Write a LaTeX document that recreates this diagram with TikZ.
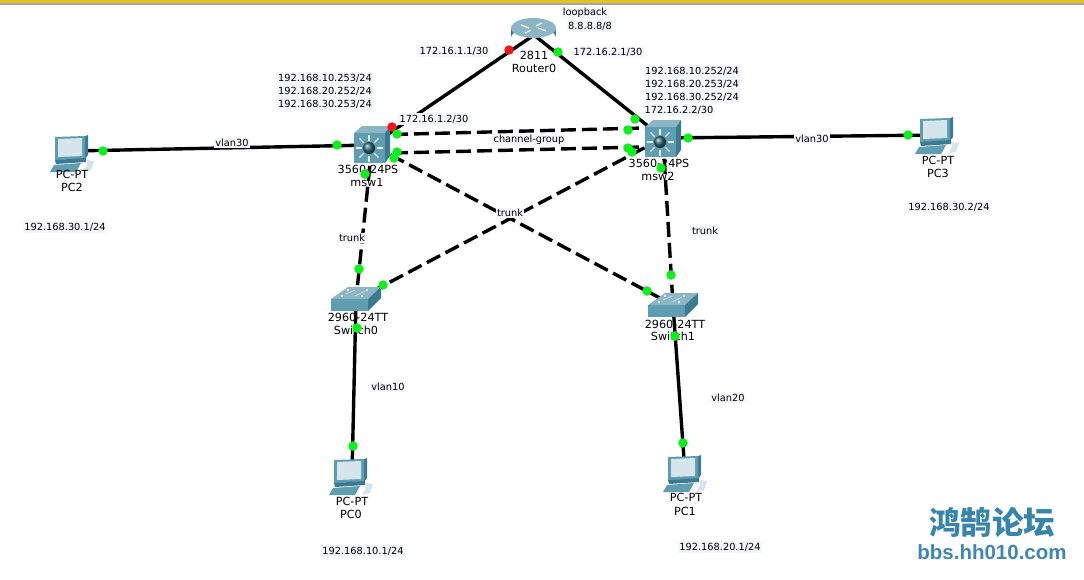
\documentclass[tikz,border=0pt]{standalone}
\usepackage{fontspec}
\setmainfont{DejaVu Sans}
\newfontfamily\cjkwm[Scale=1]{Noto Sans CJK SC}
\newfontfamily\latinwm{Liberation Sans}
\definecolor{labelbg}{HTML}{F5F7FE}
\definecolor{portgreen}{HTML}{0CF01C}
\definecolor{portred}{HTML}{F51414}
\definecolor{tealA}{HTML}{5F9DB2}
\definecolor{tealB}{HTML}{8CB6C4}
\definecolor{tealC}{HTML}{3B7A90}
\definecolor{tealD}{HTML}{D6E4EC}
\definecolor{wmblue}{HTML}{3E86B4}
\tikzset{
  solidlink/.style={line width=3.4pt,draw=black},
  dashlink/.style={line width=3.4pt,draw=black,dash pattern=on 15pt off 6pt},
  portg/.style={circle,fill=portgreen,inner sep=0pt,minimum size=9.5pt},
  portr/.style={circle,fill=portred,inner sep=0pt,minimum size=9.5pt},
  lab/.style={font=\fontsize{9.8}{13}\selectfont,fill=labelbg,inner sep=1.5pt,align=left},
  devlab/.style={font=\fontsize{11.2}{13}\selectfont,inner sep=0pt,text=black},
  pc/.pic={
    \fill[tealC] (33,2) -- (38,0) -- (38,20) -- (35,24) -- cycle;
    \fill[tealA] (5,2) -- (35,1) -- (35,24) -- (5,25) -- cycle;
    \fill[tealD] (8,4) -- (32,3) -- (32,21) -- (8,22) -- cycle;
    \fill[tealC] (5,25) -- (36,23) -- (36,27) -- (6,29) -- cycle;
    \fill[tealA] (4,30) -- (31,28) -- (26,37) -- (0,37) -- cycle;
    \fill[tealD] (36,25) -- (44,26) -- (41,35) -- (33,37) -- (37,30) -- cycle;
  },
  mls/.pic={
    \fill[tealB] (0,7) -- (8,0) -- (36,0) -- (31,7) -- cycle;
    \fill[tealC] (31,7) -- (36,0) -- (36,30) -- (31,37) -- cycle;
    \fill[tealA] (0,7) rectangle (31,37);
    \foreach \a in {0,45,...,315}{
      \draw[white!85!tealA,line width=1.1pt] (15,22)++(\a:7.5) -- ++(\a:6);
    }
    \shade[ball color=tealC!85!black] (15,22) circle (6);
  },
  l2sw/.pic={
    \fill[tealB] (0,12) -- (17,0) -- (50,0) -- (37,12) -- cycle;
    \fill[tealC] (37,12) -- (50,0) -- (50,11) -- (37,24) -- cycle;
    \fill[tealA] (0,12) rectangle (37,24);
    \fill[white] (17,3) circle (1.2) (36,3) circle (1.2) (11,9) circle (1.2) (31,9) circle (1.2);
    \draw[tealD,line width=.6pt] (15,7) -- (24,3) (24,9) -- (34,4);
  },
  routericon/.pic={
    \shade[left color=tealC,right color=tealC,middle color=tealD] (0,10) -- (0,19) arc[start angle=180,end angle=360,x radius=22.5,y radius=8] -- (45,10) -- cycle;
    \fill[tealB] (22.5,10) ellipse[x radius=22.5,y radius=10];
    \draw[white,line width=1.1pt] (10,7) -- (18,10) (35,13) -- (27,10) (14,15) -- (20,12) (31,5) -- (25,8);
  }
}
\begin{document}
\begin{tikzpicture}[x=1pt,y=-1pt]
\useasboundingbox (0,0) rectangle (1084,579);
\fill[white] (0,0) rectangle (1084,579);
% window edge
\fill[yellow!70!orange!90!black] (0,0) rectangle (1084,3);
\fill[gray!70] (0,3) rectangle (1084,4.5);

% device centres
\coordinate (pc2c) at (72,151);
\coordinate (msw1c) at (372,145);
\coordinate (msw2c) at (663,138);
\coordinate (pc3c) at (938,135);
\coordinate (r0c) at (534,35);
\coordinate (sw0c) at (356,300);
\coordinate (sw1c) at (673,305);
\coordinate (pc0c) at (352,475);
\coordinate (pc1c) at (685,473);
\coordinate (m1up) at (372,135);
\coordinate (m1lo) at (372,153.5);
\coordinate (m2up) at (663,127.5);
\coordinate (m2lo) at (663,146.5);

% connectors
\draw[solidlink] (pc2c) -- (msw1c);
\draw[solidlink] (msw2c) -- (pc3c);
\draw[solidlink] (r0c) -- (msw1c);
\draw[solidlink] (r0c) -- (msw2c);
\draw[dashlink] (m1up) -- (m2up);
\draw[dashlink] (m1lo) -- (m2lo);
\draw[dashlink] (msw1c) -- (sw0c);
\draw[dashlink] (msw2c) -- (sw1c);
\draw[dashlink] (msw1c) -- (sw1c);
\draw[dashlink] (msw2c) -- (sw0c);
\draw[solidlink] (sw0c) -- (pc0c);
\draw[solidlink] (sw1c) -- (pc1c);

% device icons
\pic at (50,135) {pc};
\pic at (915,117) {pc};
\pic at (329,458) {pc};
\pic at (663,455) {pc};
\pic at (354,126) {mls};
\pic at (645,120) {mls};
\pic at (331,287) {l2sw};
\pic at (648,293) {l2sw};
\pic at (511,18) {routericon};

% device labels
\node[devlab] (r0m) at (534,55) {2811};
\node[devlab] (r0n) at (534,68) {Router0};
\node[devlab] (m1m) at (368,169) {3560-24PS};
\node[devlab] (m1n) at (367,182) {msw1};
\node[devlab] (m2m) at (659,163) {3560-24PS};
\node[devlab] (m2n) at (658,176) {msw2};
\node[devlab] (s0m) at (358,317) {2960-24TT};
\node[devlab] (s0n) at (356,330) {Switch0};
\node[devlab] (s1m) at (675,324) {2960-24TT};
\node[devlab] (s1n) at (673,336) {Switch1};
\node[devlab] (p2m) at (72,174) {PC-PT};
\node[devlab] (p2n) at (72,187) {PC2};
\node[devlab] (p3m) at (938,160) {PC-PT};
\node[devlab] (p3n) at (938,173) {PC3};
\node[devlab] (p0m) at (352,501) {PC-PT};
\node[devlab] (p0n) at (351,514) {PC0};
\node[devlab] (p1m) at (686,497) {PC-PT};
\node[devlab] (p1n) at (685,511) {PC1};

% annotations
\node[lab] (lloop) at (585,13) {loopback};
\node[lab] (l8) at (590,26) {8.8.8.8/8};
\node[lab] (l1611) at (454,51) {172.16.1.1/30};
\node[lab] (l1621) at (608,52) {172.16.2.1/30};
\node[lab] (l1612) at (434,119) {172.16.1.2/30};
\node[lab] (l1622) at (679,110) {172.16.2.2/30};
\node[lab,align=left] (lm1) at (325,91) {192.168.10.253/24\\192.168.20.252/24\\192.168.30.253/24};
\node[lab,align=left] (lm2) at (692,84.5) {192.168.10.252/24\\192.168.20.253/24\\192.168.30.252/24};
\node[lab] (lv30a) at (232,143) {vlan30};
\node[lab] (lv30b) at (812,139) {vlan30};
\node[lab] (lch) at (529,140) {channel-group};
\node[lab] (lt1) at (352,238) {trunk};
\node[lab] (lt2) at (510,213) {trunk};
\node[lab] (lt3) at (705,231) {trunk};
\node[lab] (lv10) at (388,387) {vlan10};
\node[lab] (lv20) at (728,398) {vlan20};
\node[lab] (ip2) at (65,227) {192.168.30.1/24};
\node[lab] (ip3) at (949,207) {192.168.30.2/24};
\node[lab] (ip0) at (363,551) {192.168.10.1/24};
\node[lab] (ip1) at (720,547) {192.168.20.1/24};

% ports
\node[portg] (d1) at (103,151) {};
\node[portg] (d2) at (337,145) {};
\node[portr] (d3) at (392,127) {};
\node[portg] (d4) at (397,134) {};
\node[portg] (d5) at (394,158) {};
\node[portg] (d6) at (397,152) {};
\node[portg] (d7) at (365,174) {};
\node[portr] (d8) at (509,50) {};
\node[portg] (d9) at (558,52) {};
\node[portg] (d10) at (635,119) {};
\node[portg] (d11) at (628,130) {};
\node[portg] (d12) at (632,152) {};
\node[portg] (d13) at (628,148) {};
\node[portg] (d14) at (661,168) {};
\node[portg] (d15) at (688,138) {};
\node[portg] (d16) at (908,135) {};
\node[portg] (d17) at (359,269) {};
\node[portg] (d18) at (383,285) {};
\node[portg] (d19) at (357,328) {};
\node[portg] (d20) at (671,275) {};
\node[portg] (d21) at (647,291) {};
\node[portg] (d22) at (675,336) {};
\node[portg] (d23) at (353,446) {};
\node[portg] (d24) at (683,443) {};

% watermark
\node[inner sep=0pt,text=wmblue!85!teal,font=\cjkwm\bfseries\fontsize{31.5}{34}\selectfont] (wm1) at (992,522) {鸿鹄论坛};
\node[inner sep=0pt,text=wmblue,font=\latinwm\bfseries\fontsize{20.5}{22}\selectfont] (wm2) at (992,552) {bbs.hh010.com};
\end{tikzpicture}
\end{document}
